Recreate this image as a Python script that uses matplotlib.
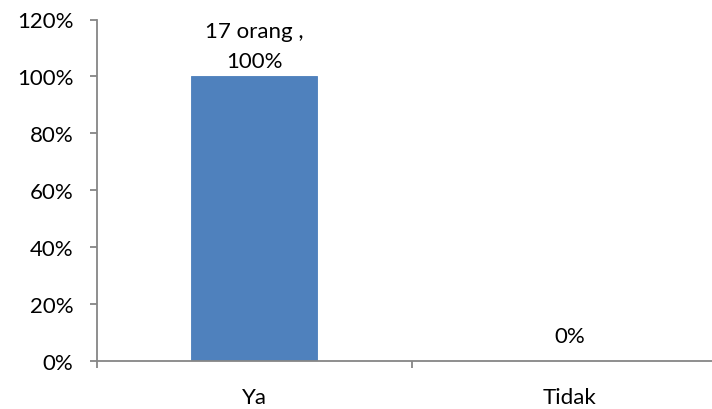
import matplotlib
matplotlib.use("Agg")
import matplotlib.pyplot as plt
from matplotlib.ticker import FuncFormatter, FixedLocator

categories = ["Ya", "Tidak"]
values = [1.00, 0.00]
counts = [17, 0]
value_labels = ["17 orang ,\n100%", "0%"]
label_offsets = [7, 13.5]  # points from the bar top to the label baseline

plt.rcParams["font.family"] = ["Lato", "DejaVu Sans"]
FS = 16

fig = plt.figure(figsize=(7.12, 4.10), dpi=100)
ax = fig.add_axes([97 / 712, 1 - 362 / 410, (727 - 97) / 712, (362 - 20.5) / 410])

x = list(range(len(categories)))
ax.bar(x, values, width=0.4, color="#4F81BD", edgecolor="#4A7EBB", linewidth=0.6, zorder=2)

for xi, v, lab, off in zip(x, values, value_labels, label_offsets):
    ax.annotate(lab, (xi, v), xytext=(0, off), textcoords="offset points",
                ha="center", va="baseline", fontsize=FS, linespacing=1.6,
                color="black")

ax.set_xlim(-0.5, 1.5)
ax.set_ylim(0, 1.2)
ax.yaxis.set_major_locator(FixedLocator([0, 0.2, 0.4, 0.6, 0.8, 1.0, 1.2]))
ax.yaxis.set_major_formatter(FuncFormatter(lambda v, _: f"{v * 100:.0f}%"))

ax.set_xticks(x)
ax.set_xticklabels(categories)
ax.xaxis.set_minor_locator(FixedLocator([-0.5, 0.5, 1.5]))

for side in ("top", "right"):
    ax.spines[side].set_visible(False)
for side in ("left", "bottom"):
    ax.spines[side].set_color("#868686")
    ax.spines[side].set_linewidth(1.3)

ax.tick_params(axis="y", direction="out", length=5, width=1.3, color="#868686",
               labelsize=FS, pad=12)
ax.tick_params(axis="x", which="major", length=0, labelsize=FS, pad=19)
ax.tick_params(axis="x", which="minor", direction="out", length=5, width=1.3, color="#868686")

fig.savefig("out.png", dpi=100)
